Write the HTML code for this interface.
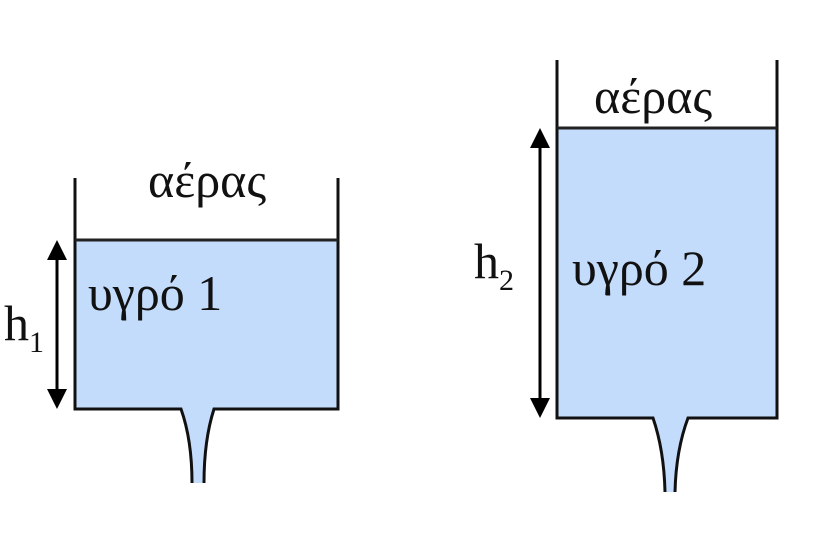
<!DOCTYPE html>
<html><head><meta charset="utf-8"><style>
html,body{margin:0;padding:0;background:#fff;}
svg{display:block;}
text{font-family:"Liberation Serif","DejaVu Serif",serif;fill:#111;}
</style></head><body>
<svg width="823" height="536" viewBox="0 0 823 536" xmlns="http://www.w3.org/2000/svg">
<!-- Tank 1 -->
<rect x="75" y="240" width="263" height="169" fill="#c4dcfb"/>
<path d="M181,409 Q192,440 192,483 L204,483 Q204,440 214,409 Z" fill="#c4dcfb"/>
<path d="M75,178 L75,409 L181,409 Q192,440 192,483 M204,483 Q204,440 214,409 L338,409 L338,178" fill="none" stroke="#111" stroke-width="3"/>
<line x1="75" y1="240" x2="338" y2="240" stroke="#222" stroke-width="3"/>
<line x1="57" y1="252" x2="57" y2="397" stroke="#000" stroke-width="3"/>
<path d="M47,260 L57,240 L67,260 Z M47,389 L57,409 L67,389 Z" fill="#000"/>
<text x="148" y="197" font-size="50">αέρας</text>
<text x="88" y="310" font-size="50">υγρό 1</text>
<text x="4" y="340" font-size="50">h</text>
<text x="29" y="352" font-size="30">1</text>
<!-- Tank 2 -->
<rect x="557" y="128" width="220" height="290" fill="#c4dcfb"/>
<path d="M653,418 Q664,450 665,492 L675,492 Q676,450 688,418 Z" fill="#c4dcfb"/>
<path d="M557,60 L557,418 L653,418 Q664,450 665,492 M675,492 Q676,450 688,418 L777,418 L777,60" fill="none" stroke="#111" stroke-width="3"/>
<line x1="557" y1="128" x2="777" y2="128" stroke="#222" stroke-width="3"/>
<line x1="540" y1="140" x2="540" y2="406" stroke="#000" stroke-width="3"/>
<path d="M530,148 L540,128 L550,148 Z M530,398 L540,418 L550,398 Z" fill="#000"/>
<text x="594" y="113" font-size="50">αέρας</text>
<text x="572" y="285" font-size="50">υγρό 2</text>
<text x="474" y="278" font-size="50">h</text>
<text x="499" y="290" font-size="30">2</text>
</svg>
</body></html>
